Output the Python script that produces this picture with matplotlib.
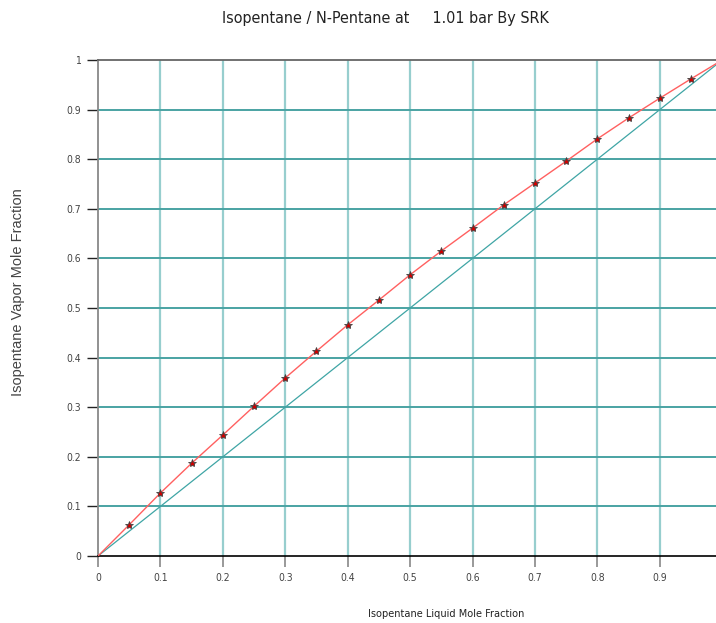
import numpy as np
import matplotlib
matplotlib.use("Agg")
import matplotlib.pyplot as plt

# liquid mole fraction of isopentane
x_liq = [0.0, 0.05, 0.10, 0.15, 0.20, 0.25, 0.30, 0.35, 0.40, 0.45, 0.50,
         0.55, 0.60, 0.65, 0.70, 0.75, 0.80, 0.85, 0.90, 0.95, 1.0]
# vapor mole fraction of isopentane (SRK)
y_vap = [0.0, 0.063, 0.127, 0.187, 0.244, 0.302, 0.359, 0.413, 0.466, 0.516, 0.567,
         0.615, 0.661, 0.708, 0.752, 0.796, 0.841, 0.883, 0.923, 0.962, 1.0]
diag = [0.0, 1.0]
xticks = [0, 0.1, 0.2, 0.3, 0.4, 0.5, 0.6, 0.7, 0.8, 0.9]
yticks = [0, 0.1, 0.2, 0.3, 0.4, 0.5, 0.6, 0.7, 0.8, 0.9, 1]

narrow = dict(family="DejaVu Sans", stretch="condensed")

fig = plt.figure(figsize=(7.16, 6.23), dpi=100)
ax = fig.add_axes([98 / 716, 1 - 556 / 623, 1 - 98 / 716, (556 - 60) / 623])

ax.set_xlim(0, 0.99)
ax.set_ylim(0, 1)

# grid
for v in xticks[1:]:
    ax.axvline(v, color="#97cece", lw=1.6, zorder=1)
for v in yticks[1:-1]:
    ax.axhline(v, color="#4aa3a3", lw=1.4, zorder=1)

ax.plot(diag, diag, color="#3fa5a5", lw=0.9, zorder=2)
ax.plot(x_liq, y_vap, color="#ff6060", lw=1.0, zorder=3)
ax.plot(x_liq[1:-1], y_vap[1:-1], ls="none", marker="*", ms=6,
        mfc="#cc0000", mec="#444444", mew=0.6, zorder=4)

ax.spines["right"].set_visible(False)
ax.spines["top"].set_color("#666666")
ax.spines["top"].set_linewidth(1.3)
ax.spines["left"].set_color("#888888")
ax.spines["left"].set_linewidth(1.3)
ax.spines["bottom"].set_color("black")
ax.spines["bottom"].set_linewidth(1.2)

ax.set_xticks(xticks)
ax.set_xticklabels([f"{v:g}" for v in xticks])
ax.set_yticks(yticks)
ax.set_yticklabels([f"{v:g}" for v in yticks])
ax.tick_params(axis="x", length=8, width=1.2, color="#888888", labelsize=7.5,
               labelcolor="#444444", pad=4)
ax.tick_params(axis="y", length=8, width=1.0, color="#222222", labelsize=7.5,
               labelcolor="#444444", pad=4)
for lab in ax.get_xticklabels() + ax.get_yticklabels():
    lab.set_fontstretch("condensed")

fig.text(385 / 716, 1 - 18 / 623, "Isopentane / N-Pentane at     1.01 bar By SRK",
         ha="center", va="center", fontsize=11.5, color="#222222", **narrow)
fig.text(368 / 716, 1 - 614 / 623, "Isopentane Liquid Mole Fraction",
         ha="left", va="center", fontsize=7.8, color="#222222", **narrow)
fig.text(18 / 716, 1 - 292 / 623, "Isopentane Vapor Mole Fraction",
         ha="center", va="center", rotation=90, fontsize=10.5,
         family=["Liberation Sans", "DejaVu Sans"], color="#444444")

plt.savefig("out.png", dpi=100)
